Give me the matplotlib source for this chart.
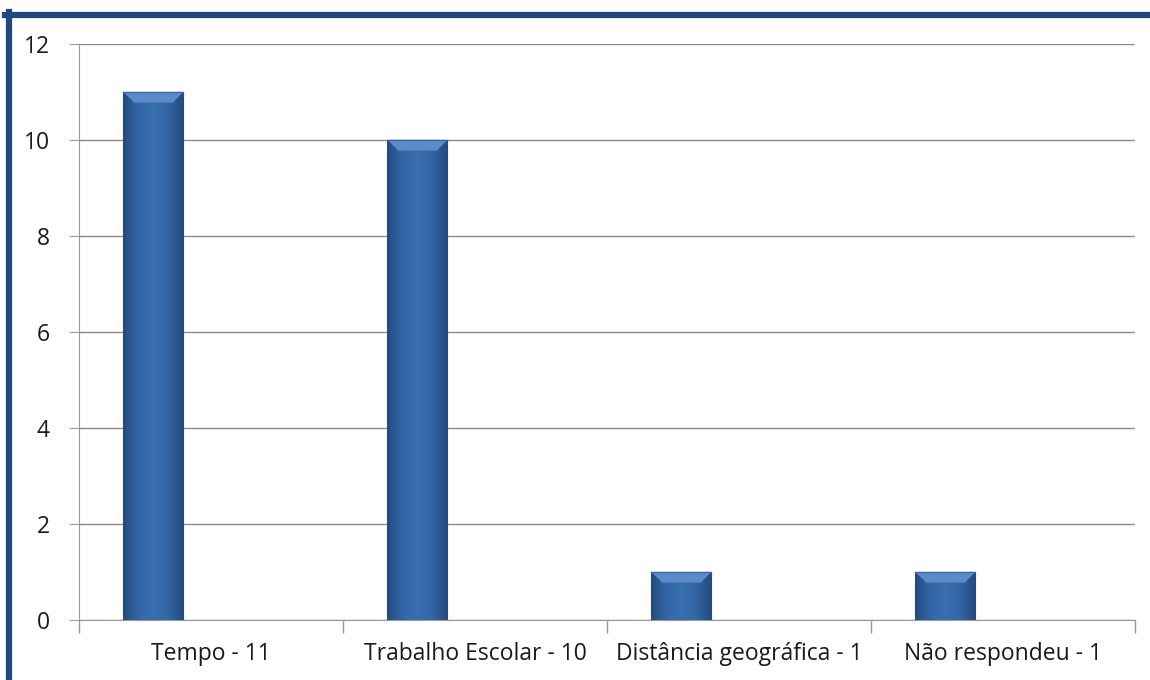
import matplotlib
matplotlib.use("Agg")
import matplotlib.pyplot as plt
import numpy as np
from matplotlib.colors import LinearSegmentedColormap
from matplotlib.patches import Polygon
from matplotlib.lines import Line2D

# dados
categorias = ['Tempo - 11', 'Trabalho Escolar - 10', 'Distância geográfica - 1', 'Não respondeu - 1']
valores = [11, 10, 1, 1]
yticks = [0, 2, 4, 6, 8, 10, 12]

plt.rcParams['font.family'] = ['Open Sans', 'DejaVu Sans']

fig = plt.figure(figsize=(11.5, 6.8), dpi=100)
ax = fig.add_axes([79/1150, 60/680, (1135-79)/1150, (620-44)/680])

x = np.arange(len(categorias))
largura = 0.227
desloc = -0.218

barras = ax.bar(x + desloc, valores, largura, color='#2F5F9E', edgecolor='#244C80',
                lw=0.8, zorder=3)

# gradiente horizontal (escuro nas bordas, claro no meio)
cmap = LinearSegmentedColormap.from_list('azul', ['#244A80', '#3366A6', '#3A6FB1', '#3366A6', '#244A80'])
grad = np.linspace(0, 1, 200).reshape(1, -1)
for b in barras:
    x0, w, h = b.get_x(), b.get_width(), b.get_height()
    im = ax.imshow(grad, extent=(x0, x0 + w, 0, h), aspect='auto', cmap=cmap,
                   zorder=4, interpolation='bicubic')
    im.set_clip_path(b)
    # bisel no topo
    dy = 0.22
    dx = 0.04
    top = Polygon([(x0, h), (x0 + w, h), (x0 + w - dx, h - dy), (x0 + dx, h - dy)],
                  closed=True, facecolor='#5B8BCA', edgecolor='none', zorder=5)
    ax.add_patch(top)
    ax.plot([x0, x0 + w], [h, h], color='#3A6AAA', lw=1, zorder=6)

ax.set_xlim(-0.5, len(categorias) - 0.5)
ax.set_ylim(0, 12)
ax.set_yticks(yticks)
ax.set_xticks(np.arange(len(categorias) + 1) - 0.5, minor=True)
ax.set_xticks(x)
ax.set_xticklabels(categorias, fontsize=16.5, color='#1a1a1a')
ax.tick_params(axis='x', which='major', length=0, pad=16)
ax.tick_params(axis='x', which='minor', length=9, color='#9a9a9a', width=1)
ax.tick_params(axis='y', length=7, color='#9a9a9a', labelsize=16.5, labelcolor='#1a1a1a', pad=14)

ax.grid(axis='y', color='#8c8c8c', lw=1, zorder=0)
for s in ['top', 'right']:
    ax.spines[s].set_visible(False)
ax.spines['left'].set_color('#9a9a9a')
ax.spines['bottom'].set_color('#9a9a9a')

# moldura azul
fig.add_artist(Line2D([5/1150, 1], [1 - 14.5/680, 1 - 14.5/680], color='#1F497D', lw=4.5,
                      transform=fig.transFigure))
fig.add_artist(Line2D([9/1150, 9/1150], [0, 1 - 12/680], color='#1F497D', lw=4.5,
                      transform=fig.transFigure))

fig.savefig('out.png', dpi=100)
